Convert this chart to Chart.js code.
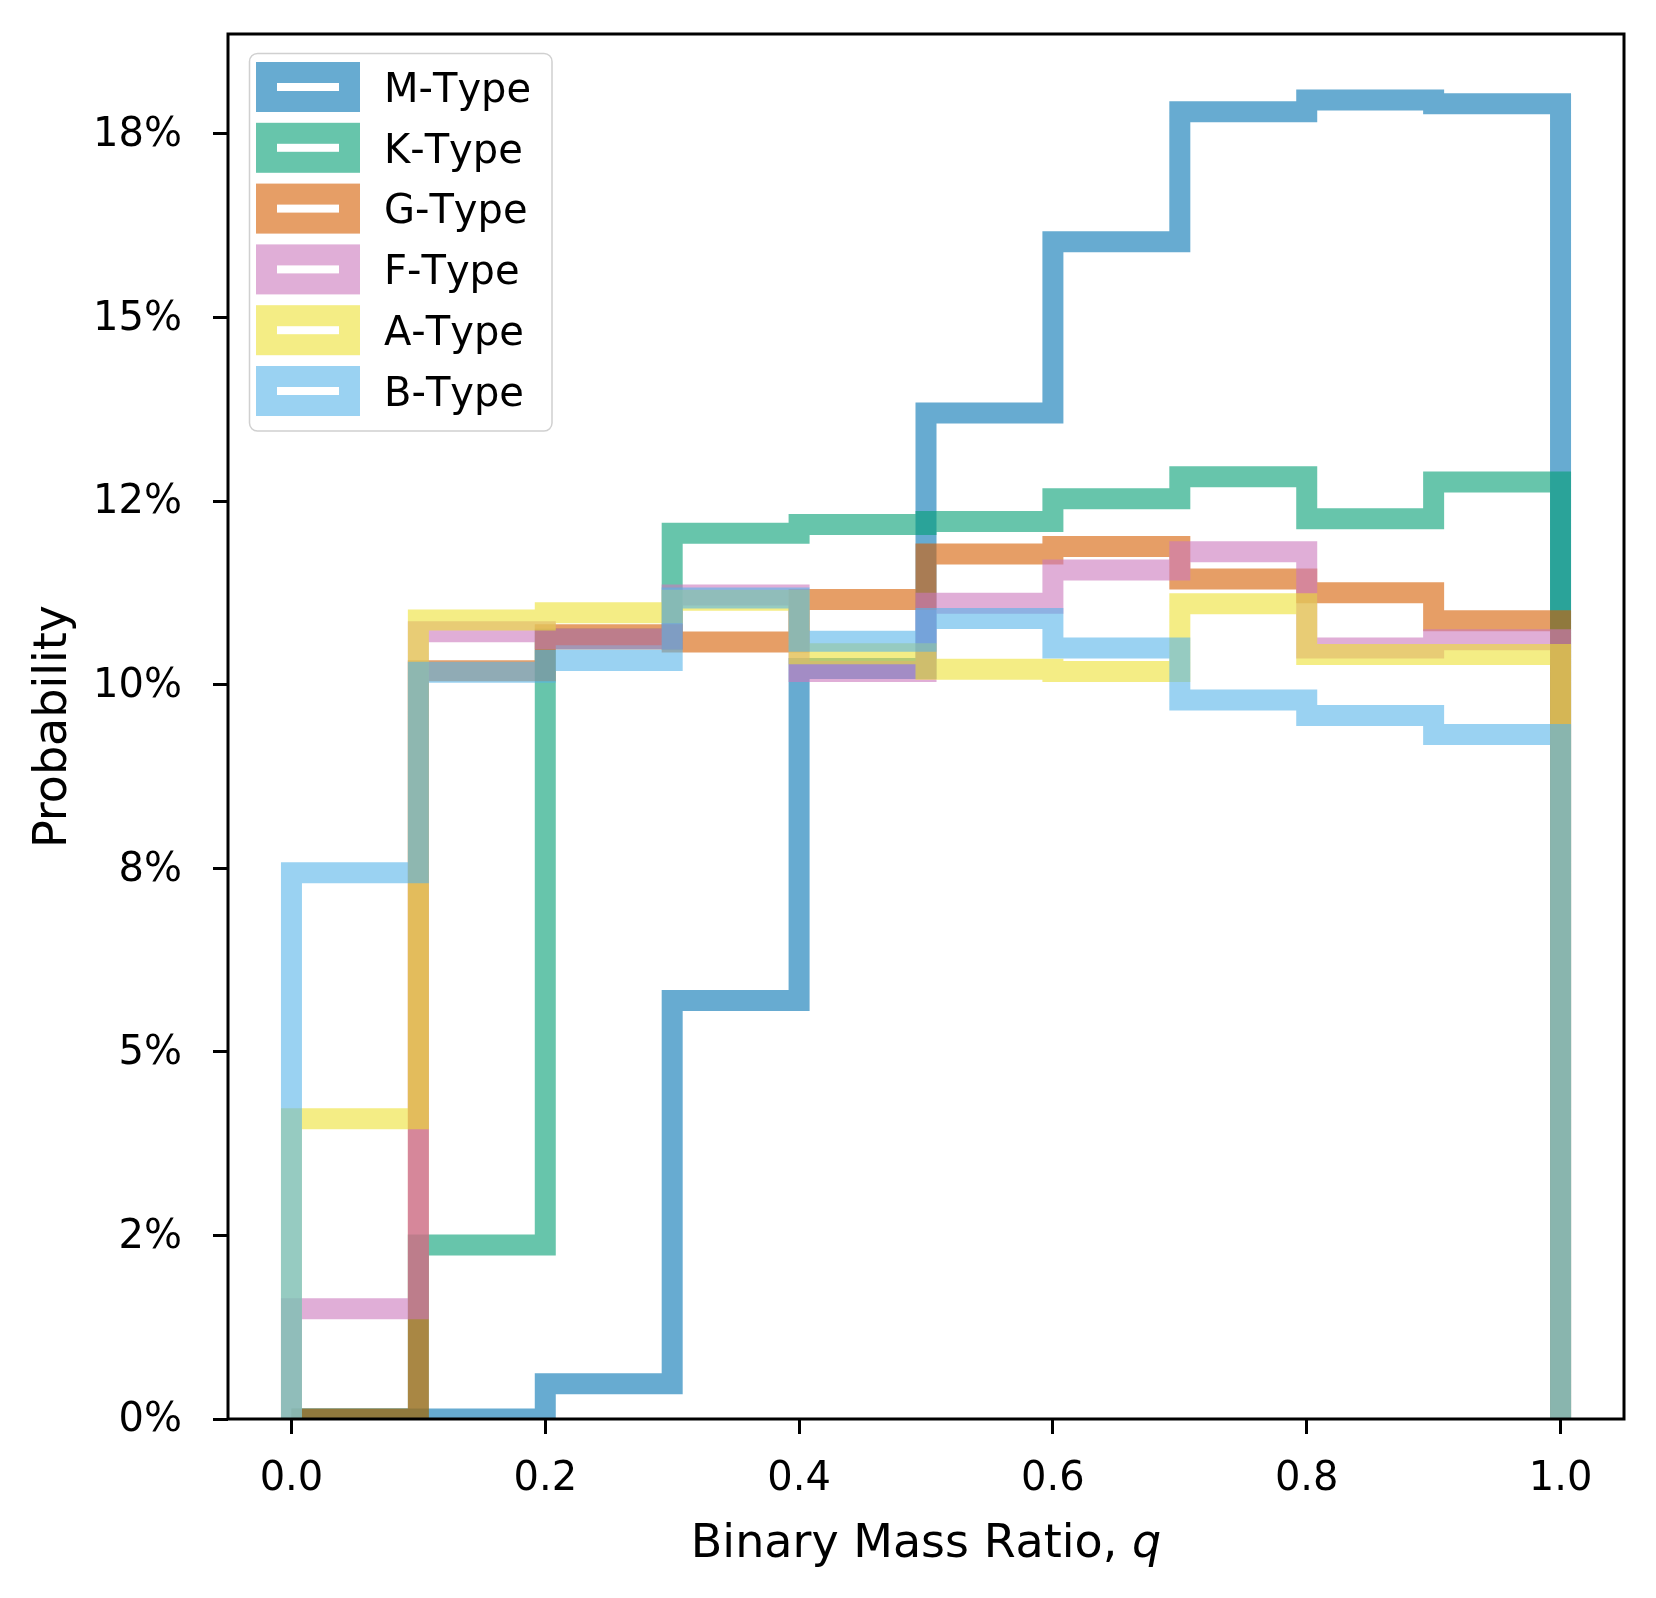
<!DOCTYPE html>
<html>
<head>
<meta charset="utf-8">
<script src="https://cdn.jsdelivr.net/npm/chart.js@4.4.1/dist/chart.umd.min.js"></script>
<style>
  html, body { margin: 0; padding: 0; background: #ffffff; }
  #wrap { width: 1656px; height: 1598px; position: relative; }
  canvas { display: block; }
</style>
</head>
<body>
<div id="wrap"><canvas id="chart" width="1656" height="1598"></canvas></div>
<script>
// ---------------- data ----------------
const binEdges = [0, 0.1, 0.2, 0.3, 0.4, 0.5, 0.6, 0.7, 0.8, 0.9, 1.0];
const seriesNames = ['M-Type', 'K-Type', 'G-Type', 'F-Type', 'A-Type', 'B-Type'];
const mType = [0, 0, 0.48, 5.70, 10.22, 13.70, 16.03, 17.80, 17.96, 17.91];
const kType = [0, 2.37, 10.62, 12.06, 12.18, 12.22, 12.53, 12.83, 12.26, 12.76];
const gType = [0, 10.19, 10.68, 10.58, 11.16, 11.78, 11.88, 11.44, 11.25, 10.87];
const fType = [1.50, 10.72, 10.62, 11.22, 10.18, 11.11, 11.56, 11.81, 10.50, 10.61];
const aType = [4.09, 10.88, 10.98, 11.15, 10.42, 10.21, 10.18, 11.10, 10.41, 10.41];
const bType = [7.44, 10.17, 10.33, 11.18, 10.59, 10.90, 10.50, 9.79, 9.58, 9.32];
const xTickValues = [0, 0.2, 0.4, 0.6, 0.8, 1.0];
const xTickLabels = ['0.0', '0.2', '0.4', '0.6', '0.8', '1.0'];
const yTickValues = [0, 2.5, 5, 7.5, 10, 12.5, 15, 17.5];
const yTickLabels = ['0%', '2%', '5%', '8%', '10%', '12%', '15%', '18%'];
const xAxisTitle = 'Binary Mass Ratio, ';
const xAxisTitleVar = 'q';
const yAxisTitle = 'Probability';

// ---------------- styles ----------------
const seriesColors = ['#0173B2', '#029E73', '#D55E00', '#CC78BC', '#ECE133', '#56B4E9'];
const ALPHA = 0.6;
const LINE_W = 21;
const FONT = 'DejaVu Sans';

function rgba(hex, a) {
  const n = parseInt(hex.slice(1), 16);
  return 'rgba(' + ((n >> 16) & 255) + ',' + ((n >> 8) & 255) + ',' + (n & 255) + ',' + a + ')';
}

// histogram step outline: start at (edge0,0), one point per bin right edge, back to 0
function stepPoints(vals) {
  const pts = [{ x: binEdges[0], y: 0 }];
  vals.forEach((v, i) => pts.push({ x: binEdges[i + 1], y: v }));
  pts.push({ x: binEdges[binEdges.length - 1], y: 0 });
  return pts;
}

const seriesValues = [mType, kType, gType, fType, aType, bType];
const datasets = seriesValues.map((vals, i) => ({
  label: seriesNames[i],
  data: stepPoints(vals),
  borderColor: rgba(seriesColors[i], ALPHA),
  backgroundColor: rgba(seriesColors[i], ALPHA),
  borderWidth: LINE_W,
  stepped: 'after',
  tension: 0,
  fill: false,
  pointRadius: 0,
  pointHoverRadius: 0,
  borderJoinStyle: 'miter',
  borderCapStyle: 'butt',
  clip: 0,
  order: seriesNames.length - i
}));

// ---------------- decorations: frame, legend, x title ----------------
const decor = {
  id: 'decor',
  afterDatasetsDraw(chart) {
    const { ctx, chartArea: a } = chart;
    ctx.save();
    ctx.strokeStyle = '#000';
    ctx.lineWidth = 3;
    ctx.lineJoin = 'miter';
    ctx.strokeRect(a.left, a.top, a.right - a.left, a.bottom - a.top);
    ctx.restore();
  },
  afterDraw(chart) {
    const { ctx, chartArea: a } = chart;
    ctx.save();
    if ('fontKerning' in ctx) ctx.fontKerning = 'none';
    // legend frame
    const fx = 249.5, fy = 53.5, fw = 302.5, fh = 377.5, r = 8;
    ctx.beginPath();
    ctx.moveTo(fx + r, fy);
    ctx.lineTo(fx + fw - r, fy);
    ctx.arcTo(fx + fw, fy, fx + fw, fy + r, r);
    ctx.lineTo(fx + fw, fy + fh - r);
    ctx.arcTo(fx + fw, fy + fh, fx + fw - r, fy + fh, r);
    ctx.lineTo(fx + r, fy + fh);
    ctx.arcTo(fx, fy + fh, fx, fy + fh - r, r);
    ctx.lineTo(fx, fy + r);
    ctx.arcTo(fx, fy, fx + r, fy, r);
    ctx.closePath();
    ctx.fillStyle = 'rgba(255,255,255,0.8)';
    ctx.fill();
    ctx.strokeStyle = '#d0d0d0';
    ctx.lineWidth = 1.5;
    ctx.stroke();
    // legend entries
    ctx.font = '40px "' + FONT + '"';
    ctx.textAlign = 'left';
    ctx.textBaseline = 'alphabetic';
    chart.data.datasets.forEach((ds, i) => {
      const cy = 87 + i * 60.8;
      ctx.lineJoin = 'miter';
      ctx.lineWidth = LINE_W;
      ctx.strokeStyle = ds.borderColor;
      ctx.strokeRect(266.5, cy - 14.5, 83, 29);
      ctx.fillStyle = '#000';
      ctx.fillText(ds.label, 384, cy + 14.7);
    });
    // x axis title with italic variable
    ctx.fillStyle = '#000';
    ctx.textBaseline = 'alphabetic';
    ctx.font = '46px "' + FONT + '"';
    const w1 = ctx.measureText(xAxisTitle).width;
    ctx.font = 'italic 46px "' + FONT + '"';
    const w2 = ctx.measureText(xAxisTitleVar).width;
    const start = (a.left + a.right) / 2 - (w1 + w2) / 2;
    ctx.font = '46px "' + FONT + '"';
    ctx.fillText(xAxisTitle, start, 1557);
    ctx.font = 'italic 46px "' + FONT + '"';
    ctx.fillText(xAxisTitleVar, start + w1, 1557);
    ctx.restore();
  }
};

Chart.defaults.font.family = FONT;
Chart.defaults.color = '#000';

new Chart(document.getElementById('chart'), {
  type: 'line',
  data: { datasets: datasets },
  plugins: [decor],
  options: {
    responsive: false,
    animation: false,
    devicePixelRatio: 1,
    layout: { padding: { left: 0, right: 32, top: 34, bottom: 0 } },
    plugins: { legend: { display: false }, tooltip: { enabled: false } },
    scales: {
      x: {
        type: 'linear',
        min: -0.05,
        max: 1.05,
        afterBuildTicks: (s) => { s.ticks = xTickValues.map(v => ({ value: v })); },
        afterFit: (s) => { s.height = 179; s.paddingLeft = 0; s.paddingRight = 0; },
        ticks: {
          callback: (v, i) => xTickLabels[i],
          font: { family: FONT, size: 40 },
          color: '#000',
          padding: 22,
          maxRotation: 0,
          minRotation: 0,
          autoSkip: false
        },
        grid: { display: true, drawOnChartArea: false, drawTicks: true, tickLength: 15, tickWidth: 3, tickColor: '#000' },
        border: { display: false }
      },
      y: {
        type: 'linear',
        min: 0,
        max: 18.86,
        afterBuildTicks: (s) => { s.ticks = yTickValues.map(v => ({ value: v })); },
        afterFit: (s) => { s.width = 228; s.paddingTop = 0; s.paddingBottom = 0; },
        ticks: {
          callback: (v, i) => yTickLabels[i],
          font: { family: FONT, size: 40 },
          color: '#000',
          padding: 31,
          labelOffset: 2,
          autoSkip: false
        },
        grid: { display: true, drawOnChartArea: false, drawTicks: true, tickLength: 15, tickWidth: 3, tickColor: '#000' },
        border: { display: false },
        title: {
          display: true,
          text: yAxisTitle,
          font: { family: FONT, size: 46 },
          color: '#000',
          padding: { top: 26, bottom: 0 }
        }
      }
    }
  }
});
</script>
</body>
</html>
